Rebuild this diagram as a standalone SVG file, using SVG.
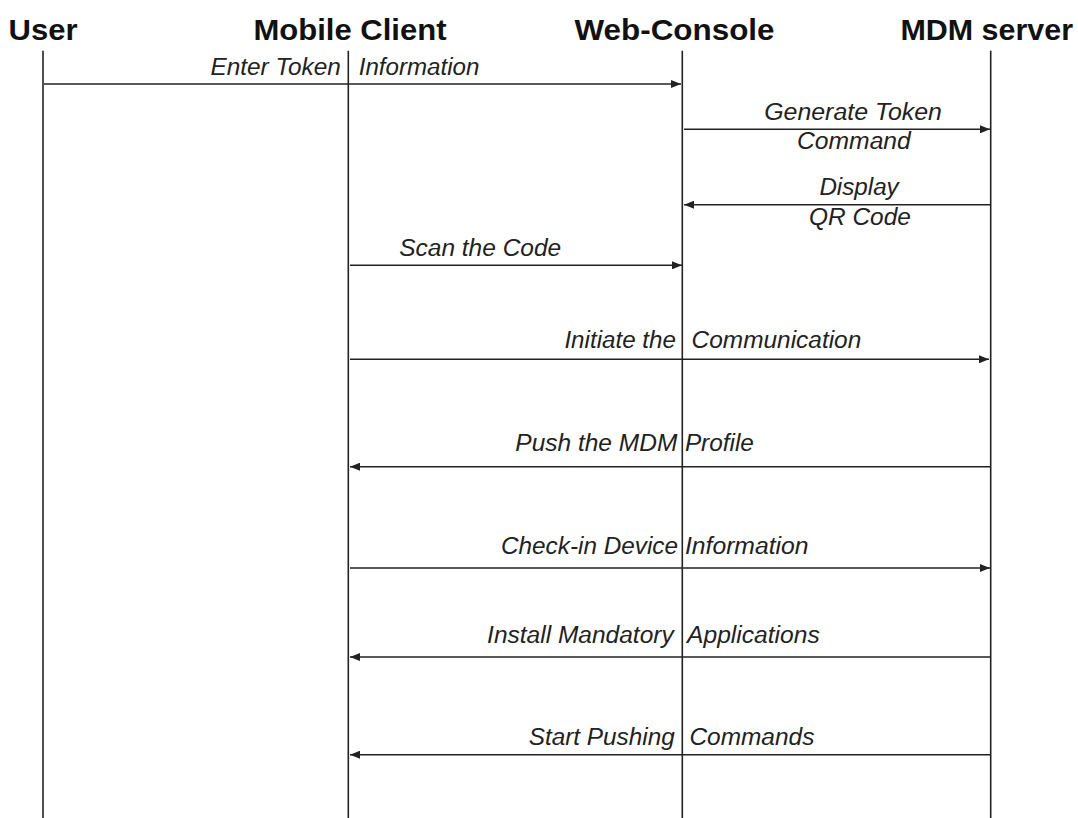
<svg xmlns="http://www.w3.org/2000/svg" width="1078" height="818" viewBox="0 0 1078 818">
<style>
.hdr{font-family:"Liberation Sans",Arial,sans-serif;font-weight:bold;font-size:30px;fill:#111}
.lbl{font-family:"Liberation Sans",Arial,sans-serif;font-style:italic;font-size:23.5px;fill:#222}
.life{stroke:#222;stroke-width:1.6;fill:none}
.msg{stroke:#222;stroke-width:1.4;fill:none;marker-end:url(#ah)}
</style>
<defs>
<marker id="ah" markerUnits="userSpaceOnUse" markerWidth="10" markerHeight="8" refX="10" refY="4" orient="auto">
<path d="M0,0 L10,4 L0,8 z" fill="#222"/>
</marker>
</defs>
<rect width="1078" height="818" fill="#fff"/>
<g id="user">
<text class="hdr" x="8.6" y="40" textLength="69" lengthAdjust="spacingAndGlyphs">User</text>
<line class="life" x1="43" y1="50.7" x2="43" y2="818"/>
</g>
<g id="mobile-client">
<text class="hdr" x="253.5" y="40" textLength="193" lengthAdjust="spacingAndGlyphs">Mobile Client</text>
<line class="life" x1="348.3" y1="50.7" x2="348.3" y2="818"/>
</g>
<g id="web-console">
<text class="hdr" x="574.5" y="40" textLength="200" lengthAdjust="spacingAndGlyphs">Web-Console</text>
<line class="life" x1="682.3" y1="50.7" x2="682.3" y2="818"/>
</g>
<g id="mdm-server">
<text class="hdr" x="900.5" y="40" textLength="172.5" lengthAdjust="spacingAndGlyphs">MDM server</text>
<line class="life" x1="990.7" y1="50.7" x2="990.7" y2="818"/>
</g>
<g id="connectors">
<line class="msg" x1="44" y1="84" x2="681" y2="84"/>
<line class="msg" x1="684" y1="129.3" x2="990" y2="129.3"/>
<line class="msg" x1="990" y1="204.7" x2="684" y2="204.7"/>
<line class="msg" x1="350" y1="265.3" x2="682" y2="265.3"/>
<line class="msg" x1="350" y1="359.3" x2="989" y2="359.3"/>
<line class="msg" x1="990" y1="466.7" x2="350" y2="466.7"/>
<line class="msg" x1="350" y1="568" x2="990" y2="568"/>
<line class="msg" x1="990" y1="657" x2="350" y2="657"/>
<line class="msg" x1="990" y1="754.7" x2="350" y2="754.7"/>
</g>
<g id="labels">
<text class="lbl" x="210.4" y="75" textLength="130.5" lengthAdjust="spacingAndGlyphs">Enter Token</text>
<text class="lbl" x="358.7" y="75" textLength="120.8" lengthAdjust="spacingAndGlyphs">Information</text>
<text class="lbl" x="764.2" y="119.8" textLength="177.7" lengthAdjust="spacingAndGlyphs">Generate Token</text>
<text class="lbl" x="797" y="148.6" textLength="113.8" lengthAdjust="spacingAndGlyphs">Command</text>
<text class="lbl" x="819.4" y="194.9" textLength="79.3" lengthAdjust="spacingAndGlyphs">Display</text>
<text class="lbl" x="809" y="224.7" textLength="101.8" lengthAdjust="spacingAndGlyphs">QR Code</text>
<text class="lbl" x="399.2" y="256.3" textLength="162" lengthAdjust="spacingAndGlyphs">Scan the Code</text>
<text class="lbl" x="564.4" y="348.3" textLength="111.6" lengthAdjust="spacingAndGlyphs">Initiate the</text>
<text class="lbl" x="691.6" y="348.3" textLength="169.7" lengthAdjust="spacingAndGlyphs">Communication</text>
<text class="lbl" x="515.3" y="450.6" textLength="162" lengthAdjust="spacingAndGlyphs">Push the MDM</text>
<text class="lbl" x="684.9" y="450.6" textLength="69" lengthAdjust="spacingAndGlyphs">Profile</text>
<text class="lbl" x="501" y="553.9" textLength="177" lengthAdjust="spacingAndGlyphs">Check-in Device</text>
<text class="lbl" x="684.9" y="553.9" textLength="123.7" lengthAdjust="spacingAndGlyphs">Information</text>
<text class="lbl" x="487.1" y="643" textLength="186.6" lengthAdjust="spacingAndGlyphs">Install Mandatory</text>
<text class="lbl" x="687.1" y="643" textLength="132.6" lengthAdjust="spacingAndGlyphs">Applications</text>
<text class="lbl" x="528.7" y="745.4" textLength="146" lengthAdjust="spacingAndGlyphs">Start Pushing</text>
<text class="lbl" x="689.4" y="745.4" textLength="125" lengthAdjust="spacingAndGlyphs">Commands</text>
</g>
</svg>
